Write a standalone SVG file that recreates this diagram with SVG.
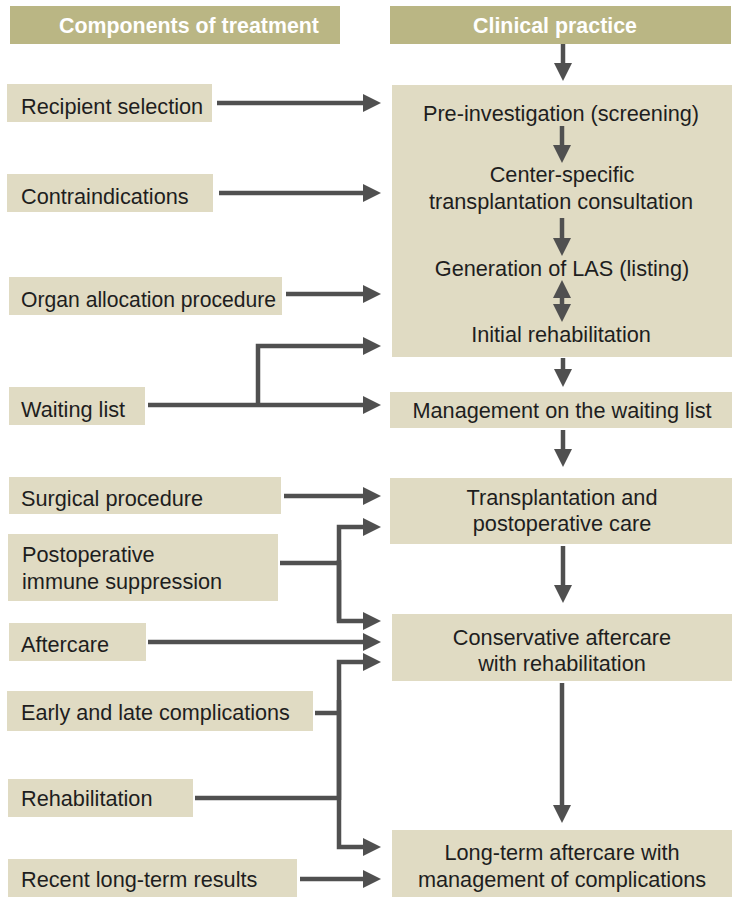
<svg xmlns="http://www.w3.org/2000/svg" width="739" height="904" viewBox="0 0 739 904">
<style>
.hdr{fill:#bab684}
.box{fill:#e0dbc3}
.ht{font-family:"Liberation Sans",Arial,sans-serif;font-size:22.5px;font-weight:bold;fill:#ffffff}
.t{font-family:"Liberation Sans",Arial,sans-serif;font-size:22.5px;fill:#1e1e1e}
.c{text-anchor:middle}
.ln{fill:none;stroke:#505050;stroke-width:4.5}
.ar{fill:none;stroke:#505050;stroke-width:4.5;marker-end:url(#ah)}
</style>
<defs>
<marker id="ah" markerUnits="userSpaceOnUse" markerWidth="18" markerHeight="18" refX="4" refY="9" orient="auto">
<path d="M0,0 L18,9 L0,18 z" fill="#505050"/>
</marker>
<marker id="ahs" markerUnits="userSpaceOnUse" markerWidth="18" markerHeight="18" refX="4" refY="9" orient="auto-start-reverse">
<path d="M0,0 L18,9 L0,18 z" fill="#505050"/>
</marker>
</defs>
<rect width="739" height="904" fill="#ffffff"/>

<g id="header-components"><rect class="hdr" x="10" y="6" width="330" height="38"/><text class="ht" transform="translate(59,33) scale(0.95,1)">Components of treatment</text></g>
<g id="header-clinical"><rect class="hdr" x="390" y="6" width="341" height="38"/><text class="ht c" transform="translate(555,33) scale(0.95,1)">Clinical practice</text></g>

<g id="recipient-selection"><rect class="box" x="7" y="84" width="205" height="38"/><text class="t" transform="translate(21,114) scale(0.965,1)">Recipient selection</text></g>
<g id="contraindications"><rect class="box" x="7" y="174" width="206" height="38"/><text class="t" transform="translate(21,204) scale(0.965,1)">Contraindications</text></g>
<g id="organ-allocation"><rect class="box" x="9" y="277" width="273" height="38"/><text class="t" transform="translate(21,307) scale(0.94,1)">Organ allocation procedure</text></g>
<g id="waiting-list"><rect class="box" x="9" y="387" width="136" height="38"/><text class="t" transform="translate(21,417) scale(0.965,1)">Waiting list</text></g>
<g id="surgical-procedure"><rect class="box" x="9" y="477" width="272" height="37"/><text class="t" transform="translate(21,506) scale(0.965,1)">Surgical procedure</text></g>
<g id="postop-immune"><rect class="box" x="8" y="534" width="270" height="67"/><text class="t" transform="translate(22,562) scale(0.965,1)">Postoperative</text><text class="t" transform="translate(22,589) scale(0.965,1)">immune suppression</text></g>
<g id="aftercare"><rect class="box" x="9" y="623" width="137" height="38"/><text class="t" transform="translate(21,652) scale(0.965,1)">Aftercare</text></g>
<g id="complications"><rect class="box" x="7" y="691" width="306" height="40"/><text class="t" transform="translate(21,720) scale(0.96,1)">Early and late complications</text></g>
<g id="rehabilitation"><rect class="box" x="8" y="779" width="185" height="38"/><text class="t" transform="translate(21,806) scale(0.965,1)">Rehabilitation</text></g>
<g id="long-term-results"><rect class="box" x="8" y="859" width="289" height="38"/><text class="t" transform="translate(21,887) scale(0.965,1)">Recent long-term results</text></g>

<g id="pre-transplant"><rect class="box" x="392" y="85" width="340" height="272"/>
<text class="t c" transform="translate(561,121) scale(0.965,1)">Pre-investigation (screening)</text>
<text class="t c" transform="translate(562,182) scale(0.965,1)">Center-specific</text>
<text class="t c" transform="translate(561,209) scale(0.965,1)">transplantation consultation</text>
<text class="t c" transform="translate(562,276) scale(0.965,1)">Generation of LAS (listing)</text>
<text class="t c" transform="translate(561,342) scale(0.965,1)">Initial rehabilitation</text>
</g>
<g id="waiting-management"><rect class="box" x="390" y="392" width="342" height="36"/><text class="t c" transform="translate(562,418) scale(0.965,1)">Management on the waiting list</text></g>
<g id="transplantation"><rect class="box" x="390" y="478" width="342" height="66"/><text class="t c" transform="translate(562,505) scale(0.965,1)">Transplantation and</text><text class="t c" transform="translate(562,531) scale(0.965,1)">postoperative care</text></g>
<g id="conservative-aftercare"><rect class="box" x="392" y="614" width="340" height="67"/><text class="t c" transform="translate(562,645) scale(0.965,1)">Conservative aftercare</text><text class="t c" transform="translate(562,671) scale(0.965,1)">with rehabilitation</text></g>
<g id="long-term-aftercare"><rect class="box" x="392" y="830" width="340" height="67"/><text class="t c" transform="translate(562,860) scale(0.965,1)">Long-term aftercare with</text><text class="t c" transform="translate(562,887) scale(0.965,1)">management of complications</text></g>

<g id="connectors">
<path class="ar" d="M563,44 V67"/>
<path class="ar" d="M562,126 V149"/>
<path class="ar" d="M562,218 V242"/>
<path class="ln" d="M562,294 V308" marker-start="url(#ahs)" marker-end="url(#ah)"/>
<path class="ar" d="M563,358 V373"/>
<path class="ar" d="M563,430 V453"/>
<path class="ar" d="M563,546 V589"/>
<path class="ar" d="M562,683 V809"/>

<path class="ar" d="M217,103 H367"/>
<path class="ar" d="M219,193 H367"/>
<path class="ar" d="M286,294 H367"/>
<path class="ar" d="M148,405 H367"/>
<path class="ar" d="M258,405 V346 H367"/>
<path class="ar" d="M284,496 H367"/>
<path class="ln" d="M280,563 H339"/>
<path class="ar" d="M339,621 V527 H367"/>
<path class="ar" d="M339,560 V621 H367"/>
<path class="ar" d="M148,642 H367"/>
<path class="ln" d="M315,713 H339"/>
<path class="ln" d="M195,798 H339"/>
<path class="ar" d="M339,800 V662 H367"/>
<path class="ar" d="M339,700 V847 H367"/>
<path class="ar" d="M300,879 H367"/>
</g>
</svg>
